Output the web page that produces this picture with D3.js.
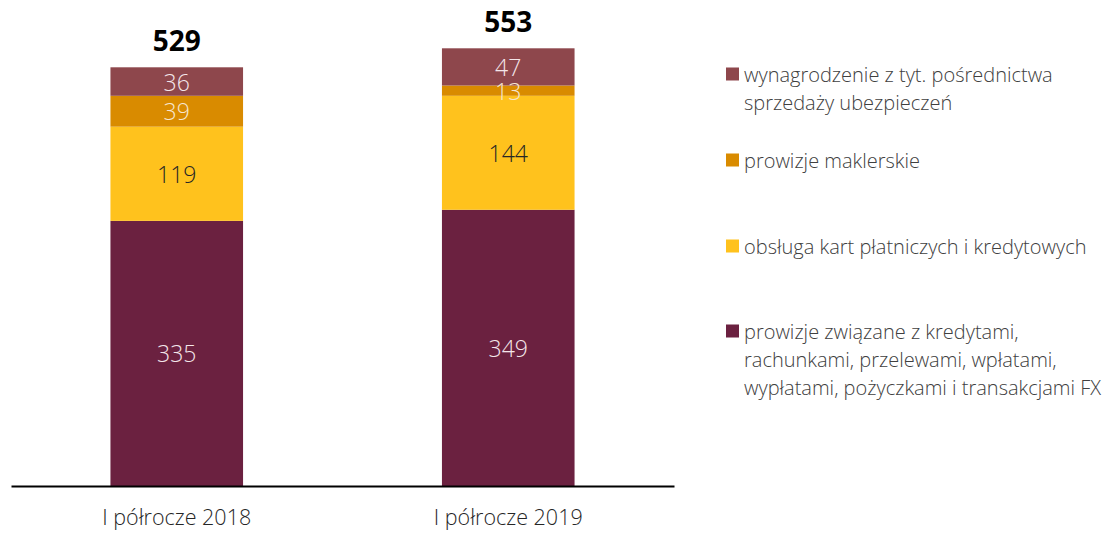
<!DOCTYPE html>
<html>
<head>
<meta charset="utf-8">
<script src="https://cdn.jsdelivr.net/npm/d3@7"></script>
<style>
  html, body { margin: 0; padding: 0; background: #fff; }
  svg { display: block; font-family: "Open Sans", "Noto Sans", sans-serif; }
</style>
</head>
<body>
<svg id="chart" width="1109" height="534"></svg>
<script>
// Categories (half-years) and stacked series, bottom to top
const periods = ["I półrocze 2018", "I półrocze 2019"];
const seriesNames = [
  "prowizje związane z kredytami, rachunkami, przelewami, wpłatami, wypłatami, pożyczkami i transakcjami FX",
  "obsługa kart płatniczych i kredytowych",
  "prowizje maklerskie",
  "wynagrodzenie z tyt. pośrednictwa sprzedaży ubezpieczeń"
];
const loansFx = [335, 349];
const cards = [119, 144];
const brokerage = [39, 13];
const insurance = [36, 47];
const totals = [529, 553];

const legendLines = [
  ["wynagrodzenie z tyt. pośrednictwa", "sprzedaży ubezpieczeń"],
  ["prowizje maklerskie"],
  ["obsługa kart płatniczych i kredytowych"],
  ["prowizje związane z kredytami,", "rachunkami, przelewami, wpłatami,", "wypłatami, pożyczkami i transakcjami FX"]
];

const colors = ["#6B2140", "#FFC21D", "#D98B00", "#8E474C"];
const labelColors = ["#F4E6EA", "#262626", "#F6E6D0", "#F4E6EA"];

const svg = d3.select("#chart");
const baseY = 486;

const x = d3.scaleBand().domain(periods).range([11, 674]).paddingInner(0.6).paddingOuter(0.3);
const y = d3.scaleLinear().domain([0, 600]).range([baseY, baseY - 600 * 0.7915]);

const rows = periods.map((p, i) => ({
  period: p, s0: loansFx[i], s1: cards[i], s2: brokerage[i], s3: insurance[i]
}));
const stack = d3.stack().keys(["s0", "s1", "s2", "s3"]);
const layers = stack(rows);

const g = svg.append("g");
layers.forEach((layer, k) => {
  g.selectAll(null).data(layer).enter().append("rect")
    .attr("x", d => x(d.data.period))
    .attr("width", x.bandwidth())
    .attr("y", d => y(d[1]))
    .attr("height", d => y(d[0]) - y(d[1]))
    .attr("fill", colors[k]);
});

// Segment value labels
layers.forEach((layer, k) => {
  g.selectAll(null).data(layer).enter().append("text")
    .attr("x", d => x(d.data.period) + x.bandwidth() / 2)
    .attr("y", d => (y(d[0]) + y(d[1])) / 2 + 1)
    .attr("dy", "0.35em")
    .attr("text-anchor", "middle")
    .attr("font-size", 23)
    .attr("font-weight", 300)
    .attr("fill", labelColors[k])
    .text(d => d[1] - d[0]);
});

// Totals above bars
g.selectAll(null).data(periods).enter().append("text")
  .attr("x", p => x(p) + x.bandwidth() / 2)
  .attr("y", (p, i) => y(totals[i]) - 26)
  .attr("dy", "0.35em")
  .attr("text-anchor", "middle")
  .attr("font-size", 28)
  .attr("font-weight", 700)
  .attr("fill", "#000")
  .text((p, i) => totals[i]);

// Category axis
const axis = svg.append("g").attr("transform", `translate(0,${baseY})`)
  .call(d3.axisBottom(x).tickSize(0).tickPadding(24));
axis.select(".domain").attr("stroke", "#000").attr("stroke-width", 2);
axis.selectAll(".tick text")
  .attr("font-size", 21.5)
  .attr("font-family", "\"Open Sans\", \"Noto Sans\", sans-serif")
  .attr("font-weight", 300)
  .attr("fill", "#262626");

// Legend (top to bottom follows stack order reversed)
const legendY = [74, 160, 246, 331];
const legend = svg.append("g");
legendLines.forEach((lines, i) => {
  const k = 3 - i;
  legend.append("rect")
    .attr("x", 726).attr("y", legendY[i] - 6.5)
    .attr("width", 13).attr("height", 13)
    .attr("fill", colors[k]);
  lines.forEach((ln, j) => {
    legend.append("text")
      .attr("x", 744).attr("y", legendY[i] + 1 + j * 28)
      .attr("dy", "0.35em")
      .attr("font-size", 20)
      .attr("font-weight", 300)
      .attr("fill", "#404040")
      .text(ln);
  });
});
</script>
</body>
</html>
